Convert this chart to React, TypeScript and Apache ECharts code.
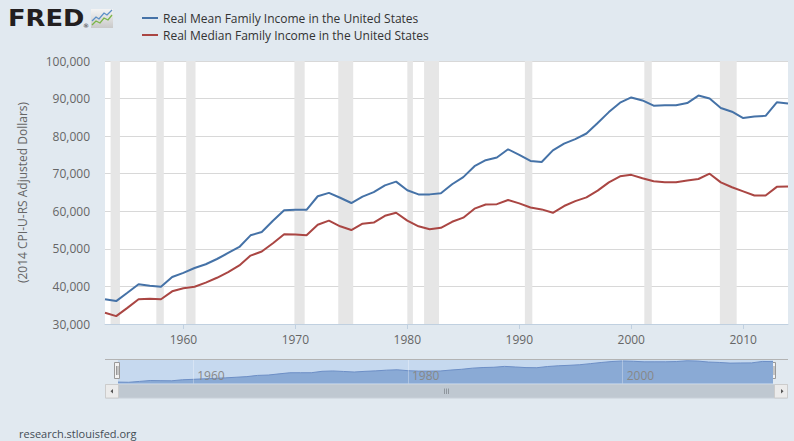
import React, { useEffect, useRef } from "react";
import * as echarts from "echarts";

const years = [
  1953, 1954, 1955, 1956, 1957, 1958, 1959, 1960, 1961, 1962, 1963, 1964, 1965, 1966, 1967, 1968,
  1969, 1970, 1971, 1972, 1973, 1974, 1975, 1976, 1977, 1978, 1979, 1980, 1981, 1982, 1983, 1984,
  1985, 1986, 1987, 1988, 1989, 1990, 1991, 1992, 1993, 1994, 1995, 1996, 1997, 1998, 1999, 2000,
  2001, 2002, 2003, 2004, 2005, 2006, 2007, 2008, 2009, 2010, 2011, 2012, 2013, 2014,
];

const meanIncome = [
  36600, 36100, 38300, 40600, 40200, 39900, 42500, 43600, 44900, 45900, 47300, 48900, 50500, 53600,
  54500, 57500, 60300, 60400, 60400, 64000, 64900, 63600, 62200, 63900, 65100, 66900, 67900, 65600,
  64500, 64500, 64800, 67200, 69100, 72000, 73600, 74300, 76500, 75000, 73400, 73100, 76200, 78000,
  79200, 80700, 83500, 86400, 88900, 90300, 89500, 88100, 88200, 88200, 88800, 90800, 90000, 87500,
  86500, 84800, 85200, 85400, 89000, 88700,
];

const medianIncome = [
  33000, 32100, 34300, 36600, 36700, 36600, 38700, 39500, 39900, 41000, 42300, 43800, 45600, 48200,
  49300, 51500, 53900, 53800, 53600, 56400, 57500, 56000, 55000, 56700, 57000, 58800, 59600, 57500,
  56000, 55200, 55600, 57200, 58300, 60700, 61800, 61900, 63000, 62100, 61000, 60500, 59600, 61400,
  62700, 63700, 65500, 67700, 69300, 69700, 68800, 68000, 67700, 67700, 68200, 68600, 70000, 67700,
  66400, 65300, 64200, 64200, 66500, 66600,
];

const recessionStarts = [
  "1953-07", "1957-08", "1960-04", "1969-12", "1973-11", "1980-01", "1981-07", "1990-07", "2001-03", "2007-12",
];
const recessionEnds = [
  "1954-05", "1958-04", "1961-02", "1970-11", "1975-03", "1980-07", "1982-11", "1991-03", "2001-11", "2009-06",
];

const xTickYears = [1960, 1970, 1980, 1990, 2000, 2010];
const navTickYears = [1960, 1980, 2000];
const yTicks = [30000, 40000, 50000, 60000, 70000, 80000, 90000, 100000];

const seriesNames = [
  "Real Mean Family Income in the United States",
  "Real Median Family Income in the United States",
];

const FONT = "'Open Sans', 'DejaVu Sans', sans-serif";

function ymToYear(s: string): number {
  const [y, m] = s.split("-").map(Number);
  return y + (m - 1) / 12;
}

export default function App() {
  const ref = useRef<HTMLDivElement>(null);

  useEffect(() => {
    if (!ref.current) return;
    const chart = echarts.init(ref.current, undefined, { renderer: "svg" });

    const meanData = years.map((y, i) => [y, meanIncome[i]]);
    const medianData = years.map((y, i) => [y, medianIncome[i]]);
    const recessionAreas = recessionStarts.map((s, i) => [
      { xAxis: ymToYear(s) },
      { xAxis: ymToYear(recessionEnds[i]) },
    ]);

    const legendBase = {
      orient: "vertical",
      left: 137,
      itemWidth: 16,
      itemHeight: 2,
      icon: "rect",
      textStyle: { color: "#333333", fontSize: 12, fontFamily: FONT },
      selectedMode: false,
    };

    const option: any = {
      animation: false,
      backgroundColor: "#e1e9f0",
      textStyle: { fontFamily: FONT },
      legend: [
        { ...legendBase, data: [seriesNames[0]], top: 7 },
        { ...legendBase, data: [seriesNames[1]], top: 24 },
      ],
      grid: [
        { left: 105, right: 6, top: 61, bottom: 117, show: true, backgroundColor: "#ffffff", borderWidth: 0 },
        { left: 118, right: 21, top: 359.5, height: 24, show: true, backgroundColor: "#c6d9ef", borderWidth: 0 },
      ],
      xAxis: [
        {
          type: "value",
          gridIndex: 0,
          min: 1953,
          max: 2014,
          axisLine: { show: true, lineStyle: { color: "#c0d0e0", width: 1 } },
          axisTick: { show: true, customValues: xTickYears, length: 5, lineStyle: { color: "#c0d0e0" } },
          axisLabel: {
            customValues: xTickYears,
            color: "#666666",
            fontSize: 12,
            fontFamily: FONT,
            margin: 9,
            formatter: (v: number) => String(v),
          },
          splitLine: { show: false },
        },
        {
          type: "value",
          gridIndex: 1,
          min: 1953,
          max: 2014,
          z: 10,
          axisLine: { show: false },
          axisTick: { show: false },
          axisLabel: {
            customValues: navTickYears,
            inside: true,
            margin: 2,
            align: "left",
            padding: [0, 0, 0, 4],
            color: "#888888",
            fontSize: 12,
            fontFamily: FONT,
            formatter: (v: number) => String(v),
          },
          splitLine: { show: false },
        },
      ],
      yAxis: [
        {
          type: "value",
          gridIndex: 0,
          min: 30000,
          max: 100000,
          interval: 10000,
          name: "(2014 CPI-U-RS Adjusted Dollars)",
          nameLocation: "middle",
          nameRotate: 90,
          nameGap: 77,
          nameTextStyle: { color: "#666666", fontSize: 12, fontFamily: FONT },
          axisLine: { show: false },
          axisTick: { show: false },
          axisLabel: {
            color: "#666666",
            fontSize: 12,
            fontFamily: FONT,
            margin: 15,
            formatter: (v: number) => (yTicks.includes(v) ? v.toLocaleString("en-US") : ""),
          },
          splitLine: { show: true, lineStyle: { color: "#d8d8d8", width: 1 } },
        },
        {
          type: "value",
          gridIndex: 1,
          min: 33000,
          max: 94000,
          show: false,
          splitLine: { show: false },
        },
      ],
      series: [
        {
          name: "recessions",
          type: "line",
          xAxisIndex: 0,
          yAxisIndex: 0,
          data: [],
          z: 1,
          silent: true,
          markArea: {
            silent: true,
            itemStyle: { color: "#e6e6e6", opacity: 1 },
            label: { show: false },
            data: recessionAreas,
          },
        },
        {
          name: seriesNames[0],
          type: "line",
          xAxisIndex: 0,
          yAxisIndex: 0,
          data: meanData,
          showSymbol: false,
          symbol: "none",
          z: 3,
          color: "#4572a7",
          lineStyle: { color: "#4572a7", width: 2 },
        },
        {
          name: seriesNames[1],
          type: "line",
          xAxisIndex: 0,
          yAxisIndex: 0,
          data: medianData,
          showSymbol: false,
          symbol: "none",
          z: 3,
          color: "#aa4643",
          lineStyle: { color: "#aa4643", width: 2 },
        },
        {
          name: "navigator",
          type: "line",
          xAxisIndex: 1,
          yAxisIndex: 1,
          data: meanData,
          showSymbol: false,
          symbol: "none",
          silent: true,
          z: 2,
          lineStyle: { color: "#6d8fc6", width: 1 },
          areaStyle: { color: "#8aaad5", opacity: 1, origin: "start" },
          markLine: {
            silent: true,
            symbol: "none",
            label: { show: false },
            lineStyle: { color: "rgba(255,255,255,0.3)", width: 1, type: "solid" },
            data: navTickYears.map((y) => ({ xAxis: y })),
          },
        },
      ],
      graphic: [
        // FRED logo
        {
          type: "text",
          left: 8,
          top: 6,
          scaleX: 1.12,
          style: {
            text: "FRED",
            fill: "#231f20",
            font: "bold 23px 'DejaVu Sans', sans-serif",
          },
        },
        {
          type: "text",
          left: 83,
          top: 22,
          style: { text: "®", fill: "#231f20", font: "6px 'DejaVu Sans', sans-serif" },
        },
        {
          type: "rect",
          shape: { x: 91, y: 9, width: 22, height: 19 },
          style: {
            fill: new echarts.graphic.LinearGradient(0, 0, 0, 1, [
              { offset: 0, color: "#f4f4f4" },
              { offset: 1, color: "#c9c9c9" },
            ]),
          },
        },
        {
          type: "polyline",
          shape: { points: [[92, 21], [96, 17], [99, 19], [104, 13], [107, 15], [112, 10]] },
          style: { stroke: "#5b8fc7", lineWidth: 1.3, fill: "none" },
        },
        {
          type: "polyline",
          shape: { points: [[92, 25], [96, 21], [100, 23], [104, 18], [108, 20], [112, 15]] },
          style: { stroke: "#7ab648", lineWidth: 1.3, fill: "none" },
        },
        // navigator outline top
        {
          type: "line",
          shape: { x1: 105, y1: 359.5, x2: 788, y2: 359.5 },
          style: { stroke: "#b3b3b3", lineWidth: 1 },
          z: 10,
        },
        // scrollbar track
        {
          type: "rect",
          shape: { x: 105.5, y: 384.5, width: 682, height: 13.5 },
          style: { fill: "#bfc8d1", stroke: "#c8d0d8", lineWidth: 1 },
          z: 10,
        },
        // scrollbar buttons
        {
          type: "rect",
          shape: { x: 105.5, y: 384.5, width: 13, height: 13.5 },
          style: { fill: "#ebebeb", stroke: "#cccccc", lineWidth: 1 },
          z: 11,
        },
        {
          type: "polygon",
          shape: { points: [[110.5, 391.2], [113, 389], [113, 393.5]] },
          style: { fill: "#555555" },
          z: 12,
        },
        {
          type: "rect",
          shape: { x: 774.5, y: 384.5, width: 13, height: 13.5 },
          style: { fill: "#ebebeb", stroke: "#cccccc", lineWidth: 1 },
          z: 11,
        },
        {
          type: "polygon",
          shape: { points: [[783.5, 391.2], [781, 389], [781, 393.5]] },
          style: { fill: "#555555" },
          z: 12,
        },
        // scrollbar grip
        ...[-2, 0, 2].map((d) => ({
          type: "line",
          shape: { x1: 446.5 + d, y1: 388.5, x2: 446.5 + d, y2: 394 },
          style: { stroke: "#8f969d", lineWidth: 1 },
          z: 12,
        })),
        // navigator handles
        ...[114.5, 770.5].map((x) => ({
          type: "group",
          z: 12,
          children: [
            {
              type: "rect",
              shape: { x, y: 362.5, width: 5, height: 16 },
              style: { fill: "#f2f2f2", stroke: "#999999", lineWidth: 1 },
            },
            {
              type: "line",
              shape: { x1: x + 2, y1: 366, x2: x + 2, y2: 375 },
              style: { stroke: "#999999", lineWidth: 1 },
            },
            {
              type: "line",
              shape: { x1: x + 3.5, y1: 366, x2: x + 3.5, y2: 375 },
              style: { stroke: "#999999", lineWidth: 1 },
            },
          ],
        })),
        // source
        {
          type: "text",
          left: 19,
          top: 428,
          style: { text: "research.stlouisfed.org", fill: "#444c55", font: `11px ${FONT}` },
        },
      ],
    };

    chart.setOption(option);
    return () => chart.dispose();
  }, []);

  return (
    <div
      ref={ref}
      style={{ position: "absolute", left: 0, top: 0, width: 794, height: 441, background: "#e1e9f0" }}
    />
  );
}
